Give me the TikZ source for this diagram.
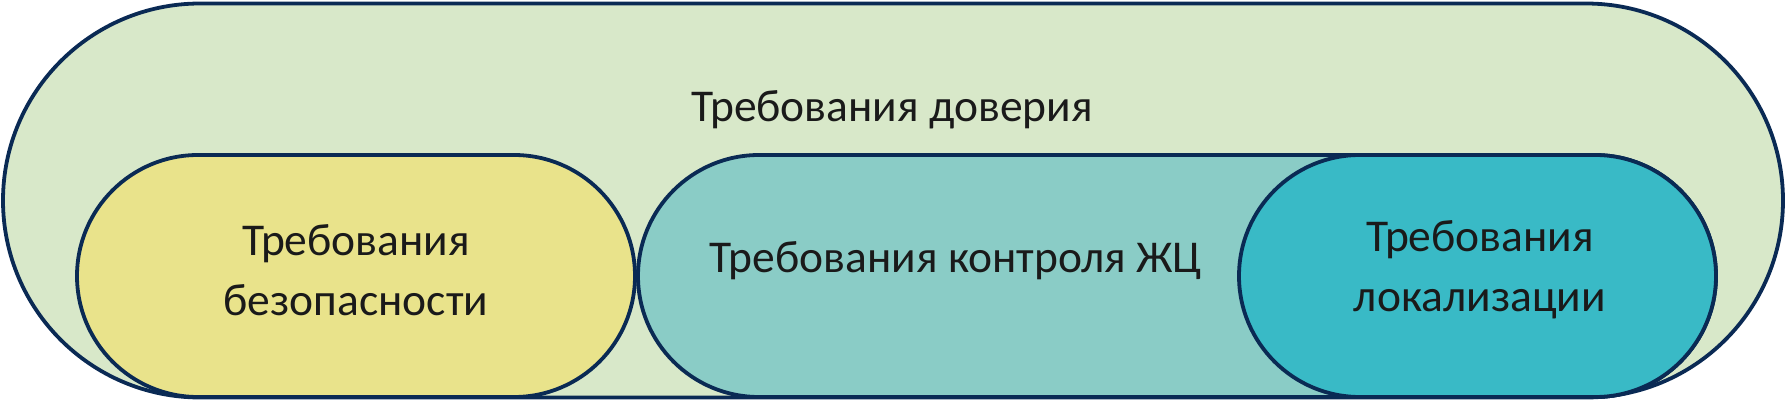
\documentclass[tikz,border=0pt]{standalone}
\usepackage{fontspec}
\setmainfont{Carlito}
\usetikzlibrary{shapes.misc}

\definecolor{trustgreen}{HTML}{D8E8C9}
\definecolor{secyellow}{HTML}{E9E38B}
\definecolor{lifeteal}{HTML}{8ACCC6}
\definecolor{locteal}{HTML}{39BAC6}
\definecolor{edgeblue}{HTML}{0A2A54}
\definecolor{textblack}{HTML}{1A1A1A}

\tikzset{
  pill/.style={rounded rectangle,draw=edgeblue,line width=3.8pt,inner sep=0pt},
  reqtext/.style={text=textblack,font=\fontsize{45.5}{60}\selectfont,align=center,inner sep=0pt}
}

\begin{document}
\begin{tikzpicture}[x=1pt,y=-1pt]
\useasboundingbox (0,0) rectangle (1786,403);

% Outer block
\node[pill,fill=trustgreen,minimum width=1780pt,minimum height=394pt] (trust) at (893,200.5) {};
\node[reqtext,anchor=base] (trustlabel) at (892,122) {Требования доверия};

% Inner blocks
\node[pill,fill=secyellow,minimum width=558pt,minimum height=242pt] (security) at (356,276) {};
\node[pill,fill=lifeteal,minimum width=1078pt,minimum height=242pt] (lifecycle) at (1177,276) {};
\node[pill,fill=locteal,minimum width=477pt,minimum height=242pt] (localization) at (1477.5,276) {};

% Labels
\node[reqtext] (securitylabel) at (356,270) {Требования\\безопасности};
\node[reqtext,anchor=base] (lifecyclelabel) at (956,273) {Требования контроля ЖЦ};
\node[reqtext] (localizationlabel) at (1480,270) {Требования\\локализации};
\end{tikzpicture}
\end{document}
